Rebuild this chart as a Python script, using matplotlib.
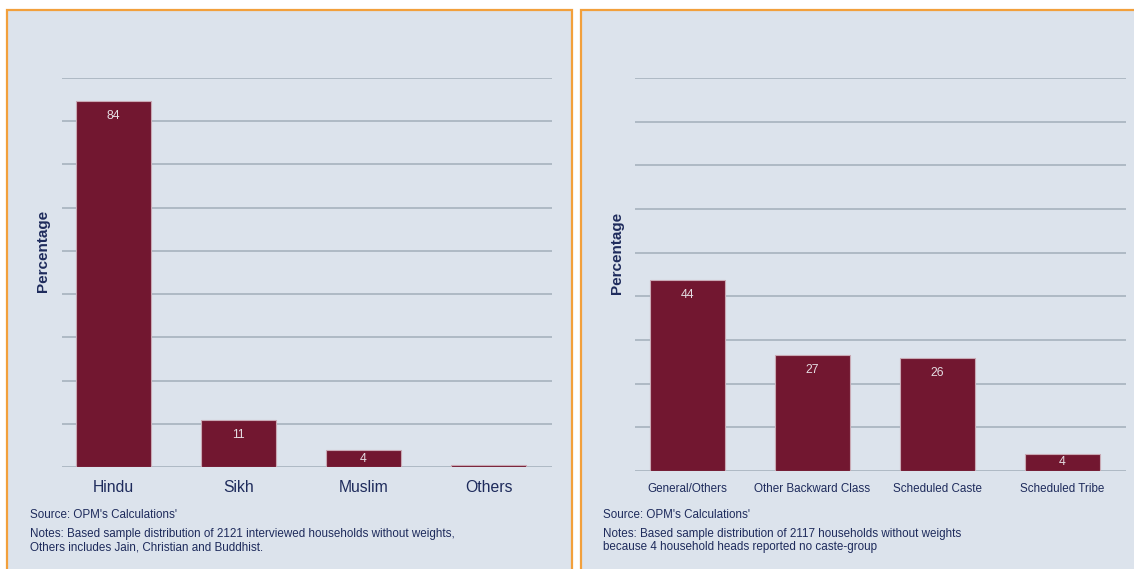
import matplotlib
matplotlib.use("Agg")
import matplotlib.pyplot as plt
from matplotlib.patches import Rectangle

plt.rcParams['font.family'] = ['Liberation Sans', 'DejaVu Sans']

# Data
religion_cats = ["Hindu", "Sikh", "Muslim", "Others"]
religion_vals = [84.6, 10.9, 3.9, 0.5]
religion_labels = ["84", "11", "4", ""]

caste_cats = ["General/Others", "Other Backward Class", "Scheduled Caste", "Scheduled Tribe"]
caste_vals = [43.8, 26.6, 25.9, 3.9]
caste_labels = ["44", "27", "26", "4"]

yticks = list(range(0, 100, 10))

W, H = 1134, 569
BG = "#dce3ec"
BAR = "#721730"
NAVY = "#1e2b5c"
GRID = "#aeb9c4"
ORANGE = "#f2a03c"

fig = plt.figure(figsize=(W / 100, H / 100), dpi=100)
fig.patch.set_facecolor("white")

def px_rect(x0, y0, x1, y1):
    return [x0 / W, 1 - y1 / H, (x1 - x0) / W, (y1 - y0) / H]

# panels
for (x0, x1) in [(6.5, 571.5), (580.5, 1145)]:
    fig.patches.append(Rectangle((x0 / W, -0.05), (x1 - x0) / W, 1.05 - 10 / H,
                                 transform=fig.transFigure, facecolor=BG,
                                 edgecolor=ORANGE, linewidth=1.6, zorder=-5))

def make_panel(rect, cats, vals, labels, tick_fs, tick_pad, xlim_left, xlim_right):
    ax = fig.add_axes(px_rect(*rect))
    ax.set_zorder(2)
    ax.set_facecolor("none")
    x = list(range(len(cats)))
    ax.bar(x, vals, width=0.6, color=BAR, edgecolor="#c9a9b4", linewidth=0.8, zorder=3)
    ax.set_ylim(0, 90)
    ax.set_xlim(xlim_left, xlim_right)
    ax.set_yticks(yticks)
    ax.set_yticklabels([])
    ax.tick_params(axis="y", length=0)
    ax.tick_params(axis="x", length=0, pad=tick_pad, labelsize=tick_fs, labelcolor=NAVY)
    ax.set_xticks(x)
    ax.set_xticklabels(cats)
    ax.grid(axis="y", color=GRID, linewidth=1.4, zorder=1)
    ax.set_axisbelow(True)
    for s in ax.spines.values():
        s.set_visible(False)
    for xi, v, lab in zip(x, vals, labels):
        if not lab:
            continue
        y = v - 3.5 if v > 8 else v / 2
        ax.text(xi, y, lab, ha="center", va="center", color="#e4dde2", fontsize=8.8, zorder=4)
    return ax

make_panel((62, 78, 552, 467), religion_cats, religion_vals, religion_labels,
           11.3, 9, -0.412, 3.508)
make_panel((635, 78, 1126, 471), caste_cats, caste_vals, caste_labels,
           8.4, 8.5, -0.42, 3.508)

# y labels
fig.text(43 / W, 1 - 251 / H, "Percentage", rotation=90, ha="center", va="center",
         fontsize=11, fontweight="bold", color=NAVY)
fig.text(617 / W, 1 - 253 / H, "Percentage", rotation=90, ha="center", va="center",
         fontsize=11, fontweight="bold", color=NAVY)

# source / notes
FS = 8.4
fig.text(30 / W, 1 - 515 / H, "Source: OPM's Calculations'", ha="left", va="center",
         fontsize=FS, color=NAVY)
fig.text(30 / W, 1 - 528.5 / H,
         "Notes: Based sample distribution of 2121 interviewed households without weights,\n"
         "Others includes Jain, Christian and Buddhist.",
         ha="left", va="top", fontsize=FS, color=NAVY, linespacing=1.07)
fig.text(603 / W, 1 - 515 / H, "Source: OPM's Calculations'", ha="left", va="center",
         fontsize=FS, color=NAVY)
fig.text(603 / W, 1 - 528.5 / H,
         "Notes: Based sample distribution of 2117 households without weights\n"
         "because 4 household heads reported no caste-group",
         ha="left", va="top", fontsize=FS, color=NAVY, linespacing=1.07)

fig.savefig("out.png", dpi=100, facecolor=fig.get_facecolor())
